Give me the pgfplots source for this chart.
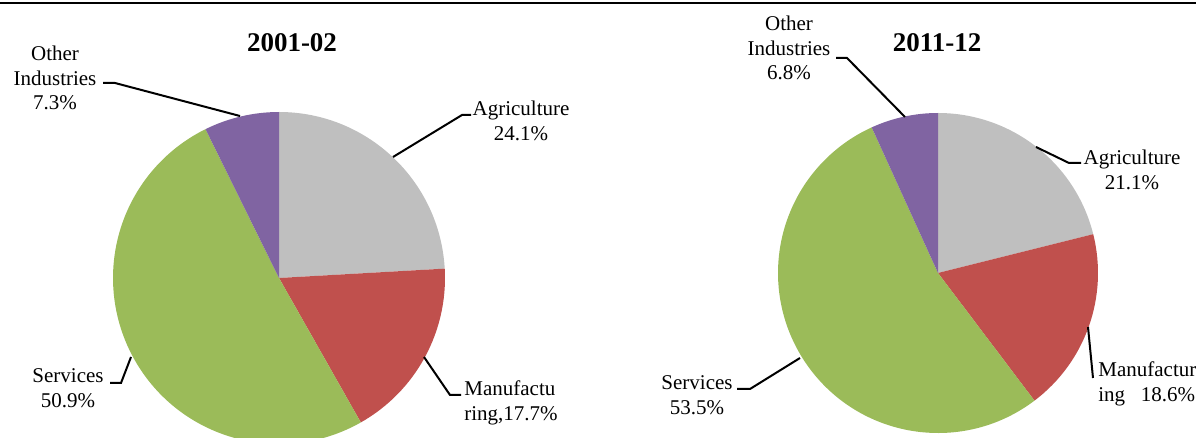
\documentclass[border=0pt]{standalone}
\usepackage{pgfplots}
\usepackage{pgfplotstable}
\pgfplotsset{compat=1.18}
\usepackage{fontspec}
\setmainfont{Liberation Serif}
\definecolor{cAgr}{HTML}{BFBFBF}
\definecolor{cMan}{HTML}{C0504D}
\definecolor{cSer}{HTML}{9BBB59}
\definecolor{cOth}{HTML}{8064A2}

\pgfplotstableread{
sector y2001 y2011
Agriculture 24.1 21.1
Manufacturing 17.7 18.6
Services 50.9 53.5
Other 7.3 6.8
}\pietable

\newcommand\getval[3]{\pgfplotstablegetelem{#1}{#2}\of\pietable\xdef#3{\pgfplotsretval}}

\begin{document}%
\getval{0}{y2001}\pAa\getval{1}{y2001}\pAb\getval{2}{y2001}\pAc\getval{3}{y2001}\pAd%
\getval{0}{y2011}\pBa\getval{1}{y2011}\pBb\getval{2}{y2011}\pBc\getval{3}{y2011}\pBd%
\pgfmathsetmacro\Aone{90-3.6*\pAa}\pgfmathsetmacro\Atwo{\Aone-3.6*\pAb}\pgfmathsetmacro\Athree{\Atwo-3.6*\pAc}\pgfmathsetmacro\Afour{\Athree-3.6*\pAd}%
\pgfmathsetmacro\Bone{90-3.6*\pBa}\pgfmathsetmacro\Btwo{\Bone-3.6*\pBb}\pgfmathsetmacro\Bthree{\Btwo-3.6*\pBc}\pgfmathsetmacro\Bfour{\Bthree-3.6*\pBd}%
\begin{tikzpicture}[
  lbl/.style={font=\fontsize{10.5}{12.3}\selectfont, align=center, inner sep=0pt},
  ttl/.style={font=\fontsize{13.5}{15}\selectfont\bfseries, inner sep=0pt},
  ldr/.style={line width=1pt, black},
]
\begin{axis}[
  width=598pt, height=219pt, scale only axis,
  xmin=0, xmax=1196, ymin=0, ymax=438, y dir=reverse,
  hide axis, clip=true,
]
\coordinate (bbsw) at (axis cs:0,438);
\coordinate (bbne) at (axis cs:1196,0);
% pie 1 (2001-02)
\fill[cAgr] (axis cs:279,278) -- ++(90:83pt) arc[start angle=90, end angle=\Aone, radius=83pt] -- cycle;
\fill[cMan] (axis cs:279,278) -- ++(\Aone:83pt) arc[start angle=\Aone, end angle=\Atwo, radius=83pt] -- cycle;
\fill[cSer] (axis cs:279,278) -- ++(\Atwo:83pt) arc[start angle=\Atwo, end angle=\Athree, radius=83pt] -- cycle;
\fill[cOth] (axis cs:279,278) -- ++(\Athree:83pt) arc[start angle=\Athree, end angle=\Afour, radius=83pt] -- cycle;
% pie 2 (2011-12)
\fill[cAgr] (axis cs:938,273) -- ++(90:80pt) arc[start angle=90, end angle=\Bone, radius=80pt] -- cycle;
\fill[cMan] (axis cs:938,273) -- ++(\Bone:80pt) arc[start angle=\Bone, end angle=\Btwo, radius=80pt] -- cycle;
\fill[cSer] (axis cs:938,273) -- ++(\Btwo:80pt) arc[start angle=\Btwo, end angle=\Bthree, radius=80pt] -- cycle;
\fill[cOth] (axis cs:938,273) -- ++(\Bthree:80pt) arc[start angle=\Bthree, end angle=\Bfour, radius=80pt] -- cycle;
% top rule
\draw[line width=1.1pt] (axis cs:0,3) -- (axis cs:1196,3);
% titles
\node[ttl] at (axis cs:292,43) {2001-02};
\node[ttl] at (axis cs:937,43) {2011-12};
% leaders pie 1
\draw[ldr] (axis cs:103,83) -- (axis cs:115,83) -- (axis cs:240,116);
\draw[ldr] (axis cs:393,157) -- (axis cs:462,115) -- (axis cs:471,115);
\draw[ldr] (axis cs:424,357) -- (axis cs:450,395) -- (axis cs:461,395);
\draw[ldr] (axis cs:110,383) -- (axis cs:121,383) -- (axis cs:131,357);
% labels pie 1
\node[lbl] at (axis cs:55,78) {Other\\Industries\\7.3\%};
\node[lbl] at (axis cs:521,121) {Agriculture\\24.1\%};
\node[lbl, align=left, anchor=west] at (axis cs:464,403) {Manufactu\\ring,17.7\%};
\node[lbl] at (axis cs:68,388) {Services\\50.9\%};
% leaders pie 2
\draw[ldr] (axis cs:836,58) -- (axis cs:847,58) -- (axis cs:905,117);
\draw[ldr] (axis cs:1036,147) -- (axis cs:1069,163) -- (axis cs:1081,163);
\draw[ldr] (axis cs:1088,327) -- (axis cs:1093,378);
\draw[ldr] (axis cs:737,389) -- (axis cs:750,389) -- (axis cs:800,358);
% labels pie 2
\node[lbl] at (axis cs:789,48) {Other\\Industries\\6.8\%};
\node[lbl] at (axis cs:1132,170) {Agriculture\\21.1\%};
\node[lbl, align=left, anchor=west] at (axis cs:1098,384) {Manufactur\\ing\ \ \ 18.6\%};
\node[lbl] at (axis cs:697,395) {Services\\53.5\%};
\end{axis}
\pgfresetboundingbox
\useasboundingbox (bbsw) rectangle (bbne);
\end{tikzpicture}%
\end{document}
